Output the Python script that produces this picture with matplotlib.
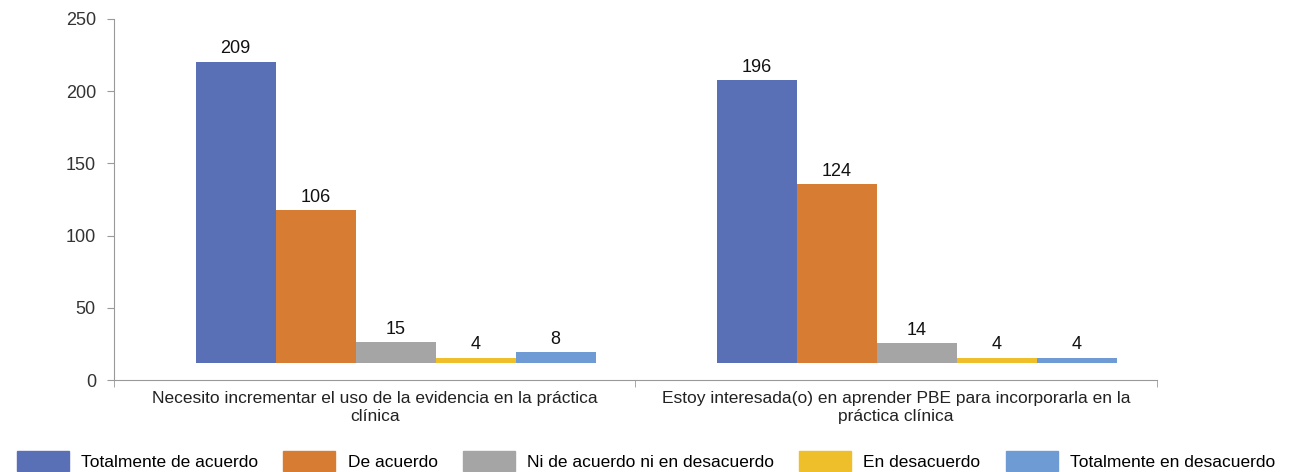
import numpy as np
import matplotlib.pyplot as plt
from matplotlib.patches import Patch

# datos
categorias = ['Necesito incrementar el uso de la evidencia en la práctica\nclínica',
              'Estoy interesada(o) en aprender PBE para incorporarla en la\npráctica clínica']
respuestas = ['Totalmente de acuerdo', 'De acuerdo', 'Ni de acuerdo ni en desacuerdo',
              'En desacuerdo', 'Totalmente en desacuerdo']
valores = {
    'Totalmente de acuerdo': [209, 196],
    'De acuerdo': [106, 124],
    'Ni de acuerdo ni en desacuerdo': [15, 14],
    'En desacuerdo': [4, 4],
    'Totalmente en desacuerdo': [8, 4],
}
colores = ['#5A70B6', '#D77D33', '#A5A5A5', '#EEBF2B', '#6E9BD4']
base = 11.5      # el grafico original tiene un "piso" (estilo 3D)
desfase = 0.04   # desplazamiento de profundidad de las barras

fuente = ['Liberation Sans', 'DejaVu Sans']
plt.rcParams['font.family'] = fuente

fig = plt.figure(figsize=(12.92, 4.72), dpi=100)
ax = fig.add_axes([0.0882, 0.1949, 0.8073, 0.765])

ancho = 0.1534
centros = np.array([0.5, 1.5])
for i, r in enumerate(respuestas):
    x = centros + desfase + (i - 2) * ancho
    v = np.array(valores[r])
    ax.bar(x, v, ancho, bottom=base, color=colores[i], label=r)
    for xi, vi in zip(x, v):
        ax.annotate(str(vi), (xi, base + vi), xytext=(0, 3), textcoords='offset points',
                    ha='center', va='bottom', fontsize=13, color='#111111')

ax.set_xlim(0, 2)
ax.set_ylim(0, 250)
ax.set_yticks(range(0, 251, 50))
ax.tick_params(axis='y', labelsize=13, colors='#333333', length=5, color='#999999', pad=8)
ax.set_xticks(centros)
ax.set_xticklabels(categorias, fontsize=12.5, color='#222222')
ax.tick_params(axis='x', length=0, pad=8)
ax.set_xticks([0, 1, 2], minor=True)
ax.tick_params(axis='x', which='minor', length=5, color='#999999')

for s in ['top', 'right']:
    ax.spines[s].set_visible(False)
ax.spines['left'].set_color('#999999')
ax.spines['bottom'].set_color('#999999')

handles = [Patch(color=c) for c in colores]
fig.legend(handles, respuestas, loc='lower center', bbox_to_anchor=(0.5, -0.02), ncol=5,
           frameon=False, fontsize=12.5, handlelength=3.0, handleheight=1.4,
           columnspacing=1.45, handletextpad=0.7, borderaxespad=0.2)

fig.savefig('out.png')
